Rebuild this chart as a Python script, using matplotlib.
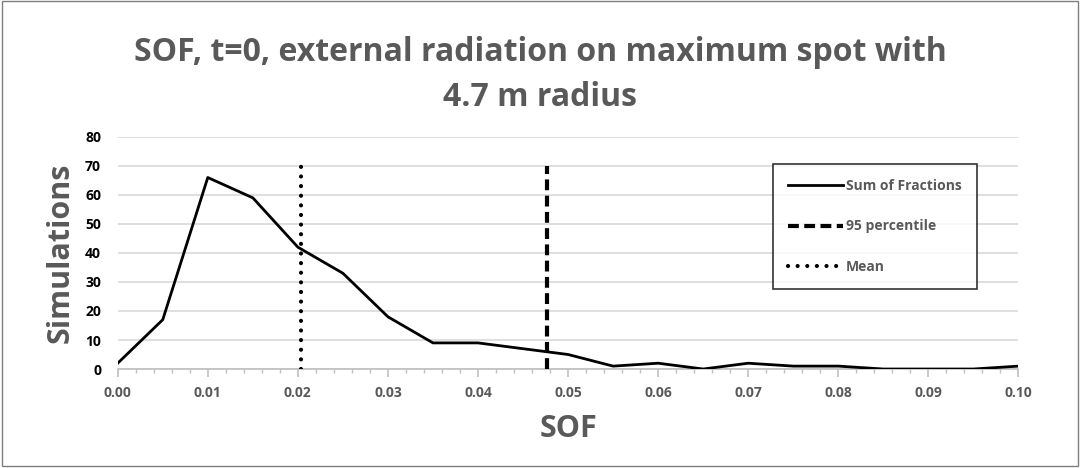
import matplotlib.pyplot as plt
from matplotlib.patches import Rectangle
import numpy as np

# data
sof = [0.000, 0.005, 0.010, 0.015, 0.020, 0.025, 0.030, 0.035, 0.040, 0.045, 0.050,
       0.055, 0.060, 0.065, 0.070, 0.075, 0.080, 0.085, 0.090, 0.095, 0.100]
simulations = [2, 17, 66, 59, 42, 33, 18, 9, 9, 7, 5,
               1, 2, 0, 2, 1, 1, 0, 0, 0, 1]
mean_sof = 0.0204
p95_sof = 0.0477
vline_top = 70

x_ticks = np.arange(0, 0.1001, 0.01)
y_ticks = np.arange(0, 81, 10)

gray = '#595959'
plt.rcParams['font.family'] = ['Open Sans', 'DejaVu Sans']

fig = plt.figure(figsize=(10.8, 4.68), dpi=100)
ax = fig.add_axes([0.109, 0.2115, 0.834, 0.496])

# outer chart border
fig.patches.append(Rectangle((0.002, 0.004), 0.996, 0.993, transform=fig.transFigure,
                             fill=False, edgecolor='#7f7f7f', linewidth=1))

ax.plot(sof, simulations, color='black', linewidth=2, label='Sum of Fractions', zorder=3)
ax.plot([p95_sof, p95_sof], [0, vline_top], color='black', linewidth=3,
        linestyle=(0, (2.6, 1.3)), dash_capstyle='butt', label='95 percentile', zorder=3)
ax.plot([mean_sof, mean_sof], [0, vline_top], color='black', linewidth=3,
        linestyle=(0, (0.01, 2.3)), dash_capstyle='round', label='Mean', zorder=3)

ax.set_xlim(0, 0.1)
ax.set_ylim(0, 80)
ax.set_xticks(x_ticks)
ax.set_xticklabels(['%.2f' % v for v in x_ticks])
ax.set_xticks(np.arange(0, 0.1001, 0.002), minor=True)
ax.set_yticks(y_ticks)

ax.grid(axis='y', color='#d9d9d9', linewidth=1.2)
ax.set_axisbelow(True)
for s in ['top', 'right', 'left']:
    ax.spines[s].set_visible(False)
ax.spines['bottom'].set_color('#bfbfbf')
ax.spines['bottom'].set_linewidth(1.2)

ax.tick_params(axis='x', which='major', length=6, color='#bfbfbf', width=1.2,
               labelsize=10, labelcolor=gray, pad=6)
ax.tick_params(axis='x', which='minor', length=3, color='#bfbfbf', width=1)
ax.tick_params(axis='y', length=0, labelsize=10, labelcolor='black', pad=12)
for lbl in ax.get_xticklabels() + ax.get_yticklabels():
    lbl.set_fontweight('bold')

ax.set_xlabel('SOF', fontsize=22, fontweight='bold', color=gray, labelpad=10)
ax.set_ylabel('Simulations', fontsize=22, fontweight='bold', color=gray, labelpad=7)

fig.text(0.5, 0.84, 'SOF, t=0, external radiation on maximum spot with\n4.7 m radius',
         ha='center', va='center', fontsize=23, fontweight='bold', color=gray,
         linespacing=1.45)

leg = ax.legend(loc='upper left', bbox_to_anchor=(0.727, 0.884), frameon=True,
                fancybox=False, edgecolor='black', fontsize=10, labelspacing=1.9,
                handlelength=4.0, handletextpad=0.2, borderpad=1.1, borderaxespad=0)
leg.get_frame().set_linewidth(1.2)
for t in leg.get_texts():
    t.set_fontweight('bold')
    t.set_color(gray)

plt.savefig('out.png', dpi=100)
